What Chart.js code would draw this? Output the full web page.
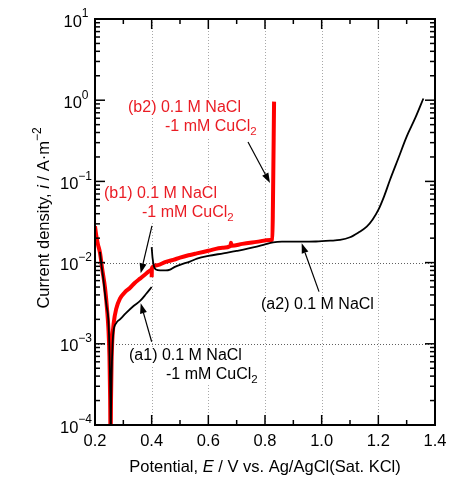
<!DOCTYPE html>
<html lang="en">
<head>
<meta charset="UTF-8">
<title>Anodic polarization curves</title>
<script src="https://cdn.jsdelivr.net/npm/chart.js@4"></script>
<style>
  html, body { margin: 0; padding: 0; background: #fff; }
  #wrap { width: 474px; height: 486px; }
</style>
</head>
<body>
<div id="wrap"><canvas id="chart" width="474" height="486"></canvas></div>
<script>
// axes
const xMajorTicks = [0.2, 0.4, 0.6, 0.8, 1.0, 1.2, 1.4];
const xTickLabels = ['0.2', '0.4', '0.6', '0.8', '1.0', '1.2', '1.4'];
const xMinorTicks = [0.3, 0.5, 0.7, 0.9, 1.1, 1.3];
const yDecades = [-4, -3, -2, -1, 0, 1];
const yTickExponents = ['\u22124', '\u22123', '\u22122', '\u22121', '0', '1'];
const xGridLines = [0.4, 0.6, 0.8, 1.0, 1.2];
const yGridLines = [1e-2, 1e-3];

// (a1) 0.1 M NaCl -1 mM CuCl2, black, cathodic branch up to 0.4 V
const a1Potential = [0.2176, 0.2230, 0.2293, 0.2350, 0.2410, 0.2470, 0.2505, 0.2530, 0.2548, 0.2556,
  0.2566, 0.2585, 0.2615, 0.2650, 0.2750, 0.2880, 0.3100, 0.3350, 0.3600, 0.3800, 0.4000];
const a1Current = [0.0136, 0.0092, 0.0063, 0.0042, 0.0029, 0.0020, 0.0010, 0.0004, 0.00015, 0.00005,
  0.00015, 0.0004, 0.0009, 0.0014, 0.0018, 0.0020, 0.0024, 0.0029, 0.0034, 0.0041, 0.0050];

// (a2) 0.1 M NaCl, black
const a2Potential = [0.4000, 0.4030, 0.4080, 0.4150, 0.4300, 0.4500, 0.4650, 0.4800, 0.5000, 0.5350,
  0.5600, 0.6000, 0.6530, 0.7000, 0.7710, 0.8000, 0.8290, 0.8600, 0.9240, 0.9800, 1.0300, 1.0650,
  1.1000, 1.1300, 1.1590, 1.1800, 1.2000, 1.2200, 1.2410, 1.2700, 1.3000, 1.3300, 1.3590];
const a2Current = [0.0155, 0.0115, 0.0090, 0.0082, 0.0080, 0.0080, 0.0082, 0.0088, 0.0094, 0.0103,
  0.0112, 0.0121, 0.0130, 0.0139, 0.0157, 0.0168, 0.0178, 0.0181, 0.0181, 0.0182, 0.0186, 0.0190,
  0.0205, 0.0235, 0.0277, 0.0340, 0.0445, 0.0650, 0.1040, 0.1900, 0.3560, 0.6000, 1.0500];

// (b1) 0.1 M NaCl -1 mM CuCl2, red
const b1Potential = [0.2000, 0.2040, 0.2100, 0.2180, 0.2250, 0.2350, 0.2420, 0.2470, 0.2510, 0.2535,
  0.2550, 0.2565, 0.2585, 0.2610, 0.2660, 0.2750, 0.2880, 0.3050, 0.3240, 0.3400, 0.3600, 0.3800, 0.3990];
const b1Current = [0.0280, 0.0220, 0.0170, 0.0130, 0.0085, 0.0050, 0.0028, 0.0016, 0.0007, 0.0002,
  0.00005, 0.0002, 0.0006, 0.0011, 0.0018, 0.0027, 0.0036, 0.0043, 0.0049, 0.0056, 0.0064, 0.0073, 0.0082];

// (b2) 0.1 M NaCl -1 mM CuCl2, red
const b2Potential = [0.4000, 0.4010, 0.4200, 0.4500, 0.4760, 0.5000, 0.5300, 0.5590, 0.6000, 0.6500,
  0.6780, 0.6800, 0.6830, 0.7200, 0.7700, 0.8180, 0.8260, 0.8280, 0.8320];
const b2Current = [0.0066, 0.0086, 0.0093, 0.0102, 0.0108, 0.0115, 0.0123, 0.0130, 0.0140, 0.0152,
  0.0160, 0.0175, 0.0161, 0.0170, 0.0180, 0.0190, 0.0192, 0.0500, 0.9600];

const RED = '#ff0000';
const RED_TEXT = '#ea1c24';
const FONT = '"Liberation Sans", Arial, Helvetica, sans-serif';
const F_MAIN = '16px ' + FONT;
const F_TITLE = '16.5px ' + FONT;
const F_TITLE_IT = 'italic 16.5px ' + FONT;
const F_ITAL = 'italic 16px ' + FONT;
const F_SMALL = '11.5px ' + FONT;

function pairs(xs, ys) {
  return xs.map((v, k) => ({ x: v, y: ys[k] }));
}

const naclLine = label => [{ text: label + ' 0.1 M NaCl', font: F_MAIN }];
const cuclLine = () => [
  { text: '-1 mM CuCl', font: F_MAIN },
  { text: '2', font: F_SMALL, dy: 5 }
];

// annotation texts, anchored at the left end of each line (data coords)
const notes = [
  { at: [0.3165, 0.801], color: RED_TEXT, parts: naclLine('(b2)') },
  { at: [0.447, 0.468], color: RED_TEXT, parts: cuclLine() },
  { at: [0.2318, 0.070], color: RED_TEXT, parts: naclLine('(b1)') },
  { at: [0.3659, 0.0408], color: RED_TEXT, parts: cuclLine() },
  { at: [0.320, 0.000708], color: '#000', parts: naclLine('(a1)') },
  { at: [0.4506, 0.000413], color: '#000', parts: cuclLine() },
  { at: [0.7859, 0.00301], color: '#000', parts: naclLine('(a2)') }
];

const arrows = [
  { from: [0.740, 0.305], to: [0.8177, 0.0955] },
  { from: [0.401, 0.0283], to: [0.3613, 0.00738] },
  { from: [0.400, 0.00106], to: [0.3613, 0.00315] },
  { from: [0.9906, 0.00439], to: [0.9295, 0.0173] }
];

function drawRich(ctx, parts, x, y, align) {
  let w = 0;
  parts.forEach(p => { ctx.font = p.font; w += ctx.measureText(p.text).width; });
  let cx = align === 'center' ? x - w / 2 : align === 'right' ? x - w : x;
  ctx.textAlign = 'left';
  ctx.textBaseline = 'middle';
  parts.forEach(p => {
    ctx.font = p.font;
    ctx.fillText(p.text, cx, y + (p.dy || 0));
    cx += ctx.measureText(p.text).width;
  });
  return w;
}

function seg(ctx, x1, y1, x2, y2) {
  ctx.beginPath();
  ctx.moveTo(x1, y1);
  ctx.lineTo(x2, y2);
  ctx.stroke();
}

const decor = {
  id: 'decor',
  beforeDatasetsDraw(chart) {
    const { ctx, chartArea: a, scales: { x, y } } = chart;
    ctx.save();
    ctx.lineWidth = 1;
    ctx.setLineDash([1, 2]);
    ctx.strokeStyle = '#a8a8a8';
    xGridLines.forEach(v => {
      const px = Math.round(x.getPixelForValue(v)) + 0.5;
      seg(ctx, px, a.top, px, a.bottom);
    });
    ctx.strokeStyle = '#606060';
    yGridLines.forEach(v => {
      const py = Math.round(y.getPixelForValue(v)) + 0.5;
      seg(ctx, a.left, py, a.right, py);
    });
    ctx.setLineDash([]);

    // text boxes hide the grid behind them
    notes.forEach(n => {
      const px = x.getPixelForValue(n.at[0]);
      const py = y.getPixelForValue(n.at[1]);
      let w = 0;
      n.parts.forEach(p => { ctx.font = p.font; w += ctx.measureText(p.text).width; });
      ctx.fillStyle = '#fff';
      ctx.fillRect(px - 1, py - 9, w + 2, 19);
      ctx.fillStyle = n.color;
      drawRich(ctx, n.parts, px, py, 'left');
    });
    ctx.restore();
  },
  afterDatasetsDraw(chart) {
    const { ctx, chartArea: a, scales: { x, y } } = chart;
    ctx.save();

    // arrows
    ctx.strokeStyle = '#000';
    ctx.fillStyle = '#000';
    ctx.lineWidth = 1.2;
    arrows.forEach(ar => {
      const x1 = x.getPixelForValue(ar.from[0]), y1 = y.getPixelForValue(ar.from[1]);
      const x2 = x.getPixelForValue(ar.to[0]), y2 = y.getPixelForValue(ar.to[1]);
      const ang = Math.atan2(y2 - y1, x2 - x1);
      const len = 10, half = 3.5;
      const bx = x2 - len * Math.cos(ang), by = y2 - len * Math.sin(ang);
      seg(ctx, x1, y1, bx, by);
      ctx.beginPath();
      ctx.moveTo(x2, y2);
      ctx.lineTo(bx + half * Math.sin(ang), by - half * Math.cos(ang));
      ctx.lineTo(bx - half * Math.sin(ang), by + half * Math.cos(ang));
      ctx.closePath();
      ctx.fill();
    });

    // inner ticks on all four sides
    ctx.strokeStyle = '#000';
    ctx.lineWidth = 1.5;
    const xt = (v, len) => {
      const px = x.getPixelForValue(v);
      seg(ctx, px, a.bottom, px, a.bottom - len);
      seg(ctx, px, a.top, px, a.top + len);
    };
    xMajorTicks.forEach(v => xt(v, 10));
    xMinorTicks.forEach(v => xt(v, 5));
    const yt = (v, len) => {
      const py = y.getPixelForValue(v);
      seg(ctx, a.left, py, a.left + len, py);
      seg(ctx, a.right, py, a.right - len, py);
    };
    yDecades.forEach(d => {
      yt(Math.pow(10, d), 10);
      if (d < 1) for (let m = 2; m <= 9; m++) yt(m * Math.pow(10, d), 5);
    });

    // frame
    ctx.lineWidth = 2;
    ctx.strokeRect(a.left, a.top, a.right - a.left, a.bottom - a.top);

    // tick labels
    ctx.fillStyle = '#000';
    xMajorTicks.forEach((v, k) => {
      drawRich(ctx, [{ text: xTickLabels[k], font: F_TITLE }], x.getPixelForValue(v), a.bottom + 16, 'center');
    });
    yDecades.forEach((d, k) => {
      const py = y.getPixelForValue(Math.pow(10, d));
      drawRich(ctx, [
        { text: '10', font: F_TITLE, dy: 3 },
        { text: yTickExponents[k], font: '12px ' + FONT, dy: -5 }
      ], 76, py, 'center');
    });

    // axis titles
    drawRich(ctx, [
      { text: 'Potential, ', font: F_TITLE },
      { text: 'E', font: F_TITLE_IT },
      { text: ' / V vs. Ag/AgCl(Sat. KCl)', font: F_TITLE }
    ], (a.left + a.right) / 2, 467, 'center');

    ctx.translate(44, 218);
    ctx.rotate(-Math.PI / 2);
    drawRich(ctx, [
      { text: 'Current density, ', font: F_TITLE },
      { text: 'i', font: F_TITLE_IT },
      { text: ' / A\u00b7m', font: F_TITLE },
      { text: '\u22122', font: '12px ' + FONT, dy: -6 }
    ], 0, 0, 'center');
    ctx.restore();
  }
};

const lineStyle = (color, width) => ({
  showLine: true,
  borderColor: color,
  backgroundColor: color,
  borderWidth: width,
  pointRadius: 0,
  cubicInterpolationMode: 'monotone',
  borderJoinStyle: 'round',
  clip: 0
});

new Chart(document.getElementById('chart'), {
  type: 'scatter',
  data: {
    datasets: [
      { label: '(a1)', data: pairs(a1Potential, a1Current), ...lineStyle('#000', 1.8) },
      { label: '(a2)', data: pairs(a2Potential, a2Current), ...lineStyle('#000', 1.8) },
      { label: '(b1)', data: pairs(b1Potential, b1Current), ...lineStyle(RED, 4) },
      { label: '(b2)', data: pairs(b2Potential, b2Current), ...lineStyle(RED, 4) }
    ]
  },
  options: {
    responsive: false,
    animation: false,
    events: [],
    layout: { padding: { left: 95, right: 39, top: 19, bottom: 61 } },
    plugins: { legend: { display: false }, tooltip: { enabled: false } },
    scales: {
      x: { type: 'linear', min: 0.2, max: 1.4, display: false },
      y: { type: 'logarithmic', min: 1e-4, max: 10, display: false }
    }
  },
  plugins: [decor]
});
</script>
</body>
</html>
